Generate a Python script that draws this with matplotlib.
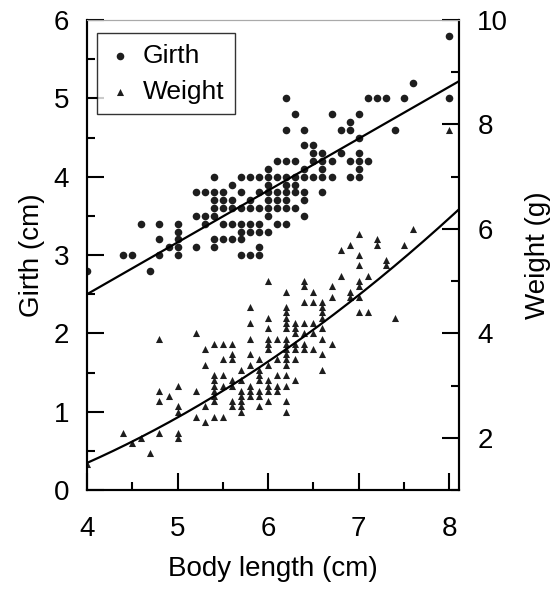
import numpy as np
import matplotlib
matplotlib.use('Agg')
import matplotlib.pyplot as plt
from matplotlib.ticker import MultipleLocator

plt.rcParams['font.family'] = ['Liberation Sans', 'DejaVu Sans']

# girth (cm) by body length (cm)
girth_len = [4.0, 4.4, 4.5, 4.6, 4.7, 4.8, 4.8, 4.8, 4.9,
             5.0, 5.0, 5.0, 5.0, 5.0, 5.2, 5.2, 5.2, 5.3, 5.3, 5.3,
             5.4, 5.4, 5.4, 5.4, 5.4, 5.4, 5.4, 5.5, 5.5, 5.5, 5.5, 5.5,
             5.6, 5.6, 5.6, 5.6, 5.6, 5.7, 5.7, 5.7, 5.7, 5.7, 5.7, 5.7,
             5.8, 5.8, 5.8, 5.8, 5.8, 5.8, 5.9, 5.9, 5.9, 5.9, 5.9, 5.9, 5.9,
             6.0, 6.0, 6.0, 6.0, 6.0, 6.0, 6.0, 6.0,
             6.1, 6.1, 6.1, 6.1, 6.1, 6.1,
             6.2, 6.2, 6.2, 6.2, 6.2, 6.2, 6.2, 6.2, 6.2,
             6.3, 6.3, 6.3, 6.3, 6.3, 6.3,
             6.4, 6.4, 6.4, 6.4, 6.4, 6.4, 6.4,
             6.5, 6.5, 6.5, 6.5, 6.6, 6.6, 6.6, 6.6, 6.6,
             6.7, 6.7, 6.7, 6.8, 6.8, 6.9, 6.9, 6.9, 6.9,
             7.0, 7.0, 7.0, 7.0, 7.0, 7.0, 7.1, 7.1, 7.2, 7.3, 7.4, 7.5, 7.6,
             8.0, 8.0]
girth = [2.8, 3.0, 3.0, 3.4, 2.8, 3.4, 3.2, 3.0, 3.1,
         3.4, 3.3, 3.2, 3.1, 3.0, 3.8, 3.5, 3.1, 3.8, 3.5, 3.4,
         4.0, 3.8, 3.7, 3.6, 3.5, 3.2, 3.1, 3.8, 3.7, 3.6, 3.4, 3.2,
         3.9, 3.7, 3.6, 3.4, 3.2, 4.0, 3.8, 3.6, 3.4, 3.3, 3.2, 3.0,
         4.0, 3.7, 3.6, 3.4, 3.3, 3.0, 4.0, 3.8, 3.6, 3.4, 3.3, 3.1, 3.0,
         4.1, 4.0, 3.9, 3.8, 3.7, 3.6, 3.5, 3.3,
         4.2, 4.0, 3.8, 3.7, 3.6, 3.4,
         5.0, 4.6, 4.2, 4.0, 3.9, 3.8, 3.7, 3.6, 3.4,
         4.8, 4.2, 4.0, 3.9, 3.8, 3.6,
         4.6, 4.4, 4.1, 4.0, 3.8, 3.7, 3.5,
         4.4, 4.3, 4.2, 4.0, 4.3, 4.2, 4.1, 4.0, 3.8,
         4.8, 4.2, 4.0, 4.6, 4.3, 4.7, 4.6, 4.2, 4.0,
         4.8, 4.5, 4.3, 4.2, 4.1, 4.0, 5.0, 4.2, 5.0, 5.0, 4.6, 5.0, 5.2,
         5.8, 5.0]

# weight (g) by body length (cm)
weight_len = [4.0, 4.4, 4.5, 4.6, 4.7, 4.8, 4.8, 4.8, 4.8, 4.9,
              5.0, 5.0, 5.0, 5.0, 5.0, 5.2, 5.2, 5.2, 5.3, 5.3, 5.3, 5.3,
              5.4, 5.4, 5.4, 5.4, 5.4, 5.4, 5.4, 5.4,
              5.5, 5.5, 5.5, 5.5, 5.5,
              5.6, 5.6, 5.6, 5.6, 5.6, 5.6, 5.6,
              5.7, 5.7, 5.7, 5.7, 5.7, 5.7, 5.7,
              5.8, 5.8, 5.8, 5.8, 5.8, 5.8, 5.8, 5.8,
              5.9, 5.9, 5.9, 5.9, 5.9, 5.9, 5.9,
              6.0, 6.0, 6.0, 6.0, 6.0, 6.0, 6.0, 6.0, 6.0, 6.0, 6.0,
              6.1, 6.1, 6.1, 6.1, 6.1,
              6.2, 6.2, 6.2, 6.2, 6.2, 6.2, 6.2, 6.2, 6.2, 6.2, 6.2, 6.2, 6.2, 6.2, 6.2, 6.2,
              6.3, 6.3, 6.3, 6.3, 6.3, 6.3, 6.3,
              6.4, 6.4, 6.4, 6.4, 6.4, 6.4, 6.4,
              6.5, 6.5, 6.5, 6.5, 6.5,
              6.6, 6.6, 6.6, 6.6, 6.6, 6.6, 6.6, 6.6,
              6.7, 6.7, 6.7, 6.8, 6.8, 6.9, 6.9, 6.9,
              7.0, 7.0, 7.0, 7.0, 7.0, 7.0, 7.0,
              7.1, 7.1, 7.2, 7.2, 7.3, 7.3, 7.4, 7.5, 7.6, 8.0]
weight = [1.5, 2.1, 1.9, 2.0, 1.7, 3.9, 2.9, 2.7, 2.1, 2.8,
          3.0, 2.6, 2.5, 2.1, 2.0, 4.0, 2.9, 2.4, 3.7, 3.4, 2.6, 2.3,
          3.8, 3.2, 3.1, 3.0, 2.9, 2.8, 2.7, 2.4,
          3.8, 3.5, 3.2, 3.0, 2.4,
          3.8, 3.6, 3.5, 3.1, 3.0, 2.7, 2.6,
          3.3, 3.1, 2.9, 2.8, 2.7, 2.6, 2.5,
          4.5, 4.2, 3.9, 3.6, 3.4, 3.0, 2.9, 2.8,
          3.5, 3.3, 3.2, 3.1, 2.9, 2.8, 2.6,
          5.0, 4.3, 4.1, 3.9, 3.8, 3.7, 3.4, 3.1, 3.0, 2.9, 2.7,
          3.9, 3.5, 3.2, 3.0, 2.9,
          4.8, 4.5, 4.4, 4.3, 4.2, 4.1, 3.9, 3.8, 3.7, 3.6, 3.5, 3.4, 3.2, 3.0, 2.7, 2.5,
          4.2, 4.1, 4.0, 3.8, 3.7, 3.5, 3.1,
          5.0, 4.9, 4.6, 4.2, 4.0, 3.8, 3.7,
          4.8, 4.6, 4.2, 4.0, 3.7,
          4.6, 4.5, 4.4, 4.3, 4.1, 3.9, 3.6, 3.3,
          4.9, 4.7, 3.8, 5.6, 5.1, 5.7, 4.8, 4.7,
          5.9, 5.5, 5.3, 5.0, 4.9, 4.7, 4.4,
          5.1, 4.4, 5.8, 5.7, 5.4, 5.3, 4.3, 5.7, 6.0, 7.9]

# fitted curves
girth_slope, girth_icpt = 0.662, -0.148      # linear
weight_a, weight_b = 0.0911, 2.03            # power law W = a*L^b

xmax = 8.11
fs = 20
fig = plt.figure(figsize=(5.58, 5.89), dpi=100)
ax = fig.add_axes([0.156, 0.168, 0.667, 0.798])
ax2 = ax.twinx()

dark = '#1e1e1e'
h1 = ax.scatter(girth_len, girth, marker='o', s=30, color=dark, linewidths=0, label='Girth')
h2 = ax2.scatter(weight_len, weight, marker='^', s=26, color=dark, linewidths=0, label='Weight')

xx = np.linspace(4, xmax, 200)
ax.plot(xx, girth_slope * xx + girth_icpt, color='black', lw=1.6)
ax2.plot(xx, weight_a * xx ** weight_b, color='black', lw=1.6)

ax.set_xlim(4, xmax)
ax.set_ylim(0, 6)
ax2.set_ylim(1, 10)

ax.xaxis.set_major_locator(MultipleLocator(1))
ax.xaxis.set_minor_locator(MultipleLocator(0.5))
ax.yaxis.set_major_locator(MultipleLocator(1))
ax.yaxis.set_minor_locator(MultipleLocator(0.5))
ax2.yaxis.set_major_locator(MultipleLocator(2))
ax2.yaxis.set_minor_locator(MultipleLocator(1))

for a in (ax, ax2):
    a.tick_params(which='major', direction='in', length=12, width=1.5, labelsize=fs, pad=13)
    a.tick_params(which='minor', direction='in', length=6, width=1.5)
    for side in ('left', 'right', 'bottom'):
        a.spines[side].set_linewidth(1.5)
    a.spines['top'].set_color('#aaaaaa')
    a.spines['top'].set_linewidth(0.8)
ax.tick_params(axis='x', which='both', top=False, pad=18.5)
ax.tick_params(axis='y', which='both', right=False)

ax.set_xlabel('Body length (cm)', fontsize=fs, labelpad=10)
ax.set_ylabel('Girth (cm)', fontsize=fs, labelpad=6)
ax2.set_ylabel('Weight (g)', fontsize=fs, labelpad=12)

leg = ax2.legend([h1, h2], ['Girth', 'Weight'], loc='upper left', fontsize=19,
                 frameon=True, fancybox=False, edgecolor='black', handletextpad=0.42,
                 borderpad=0.4, handlelength=0.9, labelspacing=0.45, borderaxespad=0,
                 bbox_to_anchor=(0.027, 0.972))
leg.get_frame().set_linewidth(1.0)

fig.savefig('out.png', dpi=100)
